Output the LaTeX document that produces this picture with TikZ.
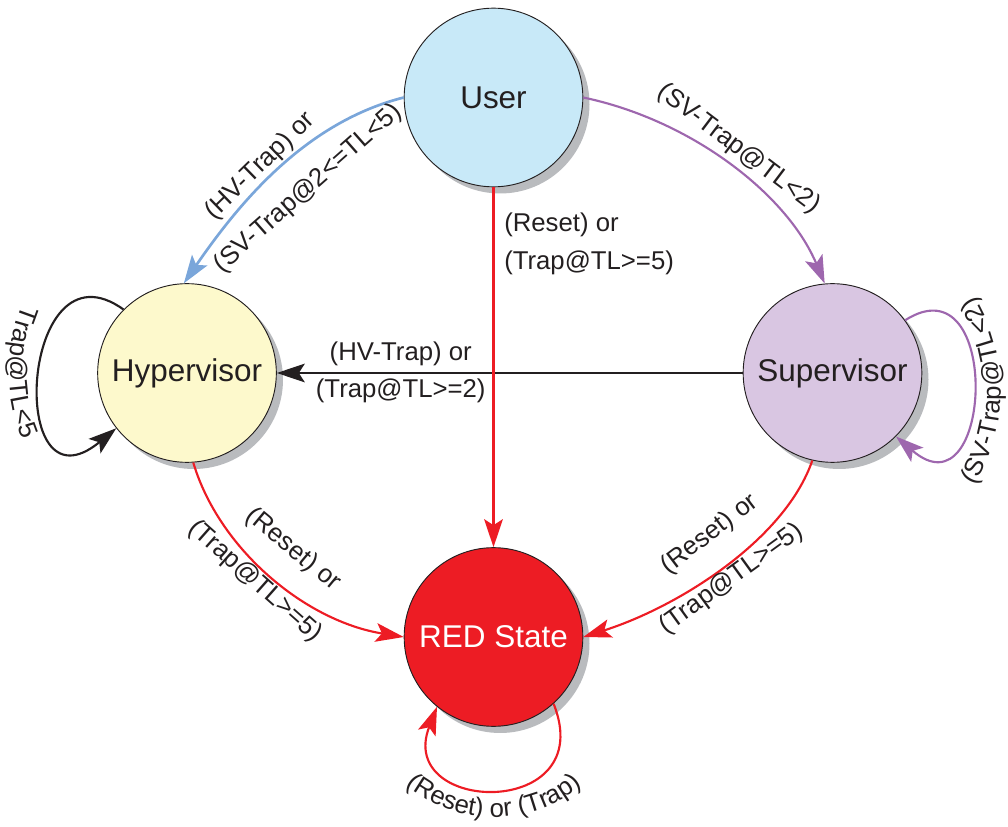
\documentclass[tikz,border=0pt]{standalone}
\usepackage{fontspec}
\setmainfont{Liberation Sans}
\usetikzlibrary{arrows.meta,shadows,decorations.text}

\definecolor{userfill}{HTML}{C8E9F8}
\definecolor{hypfill}{HTML}{FDF9CC}
\definecolor{supfill}{HTML}{D9C6E2}
\definecolor{redstate}{HTML}{ED1C24}
\definecolor{bluearc}{HTML}{7AA6DA}
\definecolor{purplearc}{HTML}{9E67AE}
\definecolor{shadowgray}{HTML}{B9BBBE}
\definecolor{ink}{HTML}{231F20}
\newcommand\lblfont{\fontsize{19.3}{23}\selectfont}

\tikzset{
  state/.style={circle, draw=ink, line width=0.7pt, minimum size=134pt, inner sep=0pt,
    font=\fontsize{23.6}{28}\selectfont, text=ink,
    drop shadow={shadow xshift=5pt, shadow yshift=-5pt, fill=shadowgray, opacity=1}},
  edge/.style={line width=1.6pt, -{Stealth[length=21pt,width=14pt,inset=4.5pt]}},
  lbl/.style={font=\lblfont, text=ink, inner sep=1pt},
  lblfar/.style={lbl, inner ysep=16pt},
  looptext/.style={decorate, decoration={text along path, text align=center, text color=ink}},
}

\begin{document}
\begin{tikzpicture}[x=0.75pt,y=-0.75pt]
\useasboundingbox (0,0) rectangle (1008,827);

\node[state, fill=userfill] (u) at (493.5,97.5) {User};
\node[state, fill=hypfill] (h) at (187,373) {Hypervisor};
\node[state, fill=supfill] (s) at (832.5,373) {Supervisor};
\node[state, fill=redstate, text=white] (r) at (493.5,637) {RED State};

% User -> Hypervisor
\draw[edge, bluearc, line width=2pt] (u.180) .. controls (307,122) and (241,200) .. (h.92)
  node[lbl, sloped, above, pos=0.54] (lhv) {(HV-Trap) or}
  node[lblfar, sloped, below, pos=0.47] (lsv) {(SV-Trap@2<=TL<5)};

% User -> Supervisor
\draw[edge, purplearc] (u.0) .. controls (691,120) and (787,194) .. (s.95)
  node[lbl, sloped, above, pos=0.49, inner ysep=4pt] (lsvp) {(SV-Trap@TL<2)};

% Supervisor -> Hypervisor
\draw[edge, ink] (s.west) -- (h.east)
  node[lbl, above, pos=0.734, inner ysep=4.5pt] (lhv2) {(HV-Trap) or}
  node[lbl, below, pos=0.734, inner ysep=3.5pt] (ltr2) {(Trap@TL>=2)};

% User -> RED
\draw[edge, redstate] (u.south) -- (r.north);
\node[lbl, anchor=base west, inner sep=0pt] (lur1) at (504,232) {(Reset) or};
\node[lbl, anchor=base west, inner sep=0pt] (lur2) at (504,270) {(Trap@TL>=5)};

% Hypervisor -> RED
\draw[edge, redstate] (h.274) .. controls (219,549) and (305,621) .. (r.west)
  node[lblfar, sloped, above, pos=0.5] (lhr1) {(Reset) or}
  node[lbl, sloped, below, pos=0.47] (lhr2) {(Trap@TL>=5)};

% Supervisor -> RED
\draw[edge, redstate] (s.257) .. controls (785,540) and (678,607) .. (r.east)
  node[lblfar, sloped, above, pos=0.47] (lsr1) {(Reset) or}
  node[lbl, sloped, below, pos=0.5] (lsr2) {(Trap@TL>=5)};

% self loops
\draw[edge, ink] (h.135) .. controls (20,235) and (5,520) .. (h.218);
\path[looptext, decoration={text={|\lblfont|Trap@TL<5}}]
  (40.8,271) .. controls (-1.7,331.6) and (-1.7,412.4) .. (40.8,473);

\draw[edge, purplearc] (s.36) .. controls (1003,258) and (993,520) .. (s.315);
\path[looptext, decoration={text={|\lblfont|(SV-Trap@TL<2)}}]
  (970,492) .. controls (1011,432) and (1011,350) .. (970,290);

\draw[edge, redstate] (r.312) .. controls (600,820) and (395,815) .. (r.231);
\path[looptext, decoration={text={|\lblfont|(Reset) or (Trap)}}]
  (388,767) .. controls (443,834) and (545,834) .. (600,767);
\end{tikzpicture}
\end{document}
